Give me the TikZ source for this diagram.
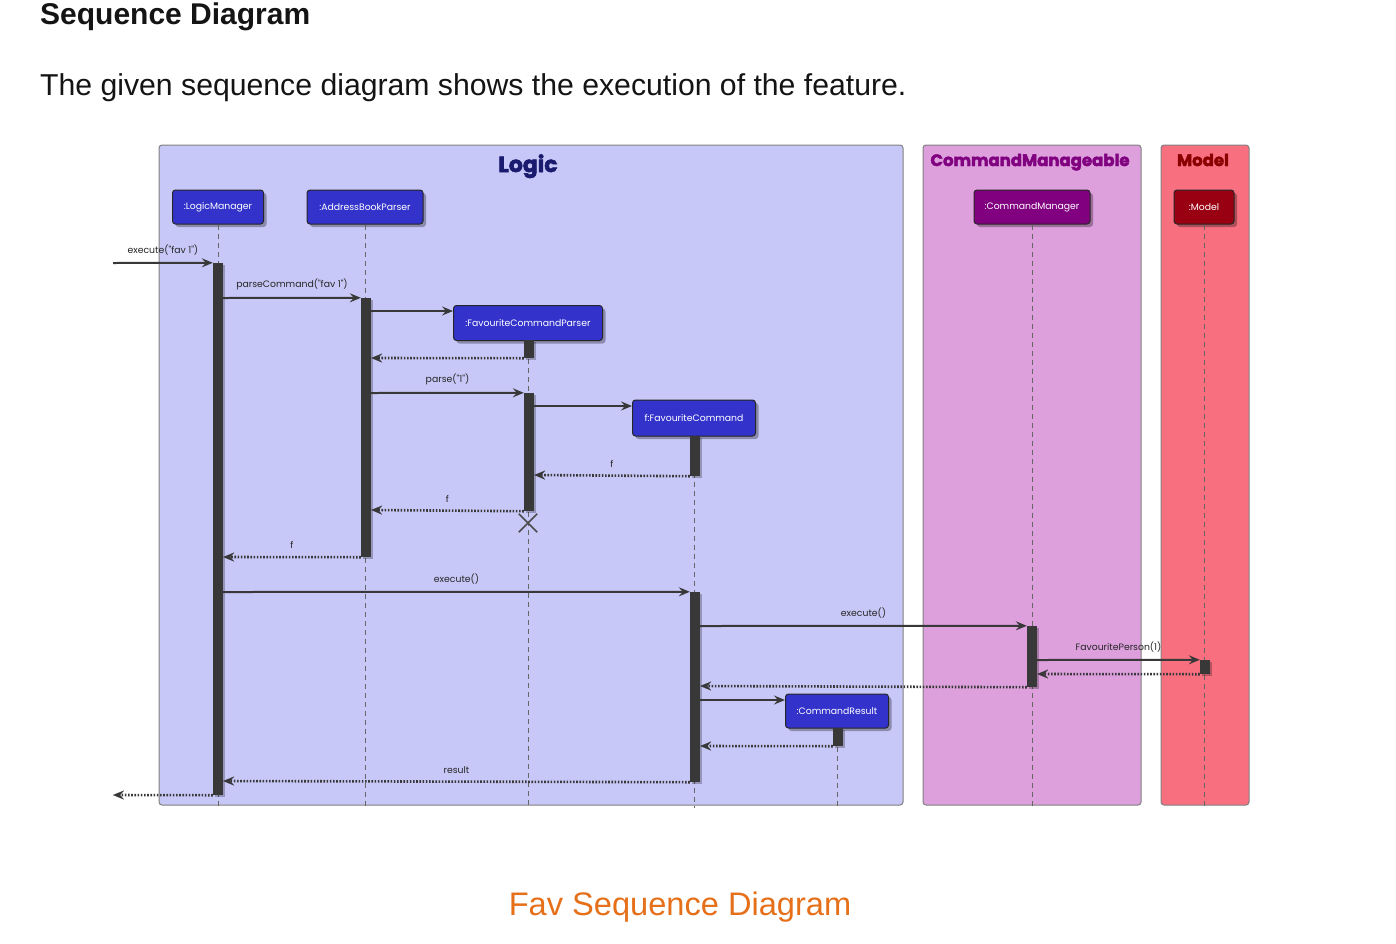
\documentclass[tikz,border=0pt]{standalone}
\usepackage{fontspec}
\setmainfont{Liberation Sans}
\newfontfamily\umlfont{Poppins}
\newfontfamily\titlefont{Poppins}[BoldFeatures={FakeBold=2.5}]
\usetikzlibrary{arrows.meta,shadows}
\definecolor{logicbg}{RGB}{200,200,248}
\definecolor{cmbg}{RGB}{221,160,221}
\definecolor{modelbg}{RGB}{248,112,128}
\definecolor{partblue}{RGB}{51,51,204}
\definecolor{partpurple}{RGB}{128,0,128}
\definecolor{partred}{RGB}{153,0,17}
\definecolor{barcol}{RGB}{56,56,56}
\definecolor{tlogic}{RGB}{26,26,110}
\definecolor{tcm}{RGB}{128,0,128}
\definecolor{tmodel}{RGB}{139,0,0}
\definecolor{capor}{RGB}{230,112,26}
\definecolor{headcol}{RGB}{20,20,20}
\tikzset{
  grp/.style={draw=black!50, line width=1pt, rounded corners=3pt},
  grptitle/.style={font=\titlefont\bfseries\fontsize{22}{26}\selectfont, anchor=base},
  part/.style={draw=black!85, line width=1pt, rounded corners=3pt, text=white,
    font=\umlfont\fontsize{9.3}{11}\selectfont, minimum height=34, inner sep=0pt,
    drop shadow={shadow xshift=3pt, shadow yshift=-3pt, fill=black, opacity=0.3}},
  bar/.style={fill=barcol, draw=none, minimum width=10, inner sep=0pt,
    drop shadow={shadow xshift=2pt, shadow yshift=-2pt, fill=black, opacity=0.25}},
  lifeline/.style={draw=black!60, dash pattern=on 5pt off 4pt, line width=1pt},
  msg/.style={draw=barcol, line width=2pt, -{Stealth[length=11pt,width=9pt,inset=4pt]}},
  ret/.style={draw=barcol, line width=2.6pt, dash pattern=on 1.6pt off 1.6pt,
    -{Stealth[length=11pt,width=9pt,inset=4pt,line width=0.1pt]}},
  mlab/.style={font=\umlfont\fontsize{9.3}{11}\selectfont, anchor=base, inner sep=0pt, text=black!85},
}
\begin{document}
\begin{tikzpicture}[x=1pt,y=-1pt]
\useasboundingbox (0,0) rectangle (1396,943);
\fill[white] (0,0) rectangle (1396,943);

% heading texts
\node[anchor=base west, inner sep=0pt, text=headcol, font=\bfseries\fontsize{30}{34}\selectfont] (head) at (40,24) {Sequence Diagram};
\node[anchor=base west, inner sep=0pt, text=headcol, font=\fontsize{30.2}{34}\selectfont] (intro) at (40,95) {The given sequence diagram shows the execution of the feature.};
\node[anchor=base, inner sep=0pt, text=capor, font=\fontsize{32.6}{36}\selectfont] (cap) at (680,915) {Fav Sequence Diagram};

% groups
\draw[grp, fill=logicbg] (159,145) rectangle (903,805);
\draw[grp, fill=cmbg] (923,145) rectangle (1141,805);
\draw[grp, fill=modelbg] (1161,145) rectangle (1249,805);
\node[grptitle, text=tlogic] (tl) at (528,172) {Logic};
\node[grptitle, text=tcm, font=\titlefont\bfseries\fontsize{16.5}{20}\selectfont] (tc) at (1030,166) {CommandManageable};
\node[grptitle, text=tmodel, font=\titlefont\bfseries\fontsize{16.5}{20}\selectfont] (tm) at (1203,166) {Model};

% lifeline ends
\coordinate (lmend) at (218,808);
\coordinate (abpend) at (365,808);
\coordinate (fcpend) at (528,808);
\coordinate (fcend) at (694,808);
\coordinate (crend) at (837,808);
\coordinate (cmend) at (1032,808);
\coordinate (moend) at (1204,808);

% participants
\node[part, fill=partblue, minimum width=91] (lm) at (218,207) {:LogicManager};
\node[part, fill=partblue, minimum width=116] (abp) at (365,207) {:AddressBookParser};
\node[part, fill=partblue, minimum width=149, minimum height=35] (fcp) at (528,323) {:FavouriteCommandParser};
\node[part, fill=partblue, minimum width=123, minimum height=36] (fc) at (694,418) {f:FavouriteCommand};
\node[part, fill=partblue, minimum width=103] (cr) at (837,711) {:CommandResult};
\node[part, fill=partpurple, minimum width=116] (cm) at (1032,207) {:CommandManager};
\node[part, fill=partred, minimum width=60] (mo) at (1204,207) {:Model};

% lifelines
\draw[lifeline] (lm.south) -- (lmend);
\draw[lifeline] (abp.south) -- (abpend);
\draw[lifeline] (fcp.south) -- (fcpend);
\draw[lifeline] (fc.south) -- (fcend);
\draw[lifeline] (cr.south) -- (crend);
\draw[lifeline] (cm.south) -- (cmend);
\draw[lifeline] (mo.south) -- (moend);

% activation bars
\node[bar, minimum height=532] (lmbar) at (218,529) {};
\node[bar, minimum height=259] (abpbar) at (366,427.5) {};
\node[bar, minimum height=18] (fcpbar1) at (529,349) {};
\node[bar, minimum height=118] (fcpbar2) at (529,452) {};
\node[bar, minimum height=40] (fcbar1) at (695,456) {};
\node[bar, minimum height=190] (fcbar2) at (695,687) {};
\node[bar, minimum height=61] (cmbar) at (1032,656.5) {};
\node[bar, minimum height=14] (mobar) at (1205,667) {};
\node[bar, minimum height=18] (crbar) at (838,737) {};

% free ends
\coordinate (inL) at (113,263);
\coordinate (outL) at (113,795);

% messages
\draw[msg] (inL) -- (lmbar.north west) node[mlab, midway, above=7pt] {execute("fav 1")};
\draw[msg] (lmbar.east |- 0,298) -- (abpbar.north west) node[mlab, midway, above=7pt] {parseCommand("fav 1")};
\draw[msg] (abpbar.east |- 0,311) -- (fcp.west |- 0,311);
\draw[ret] (fcpbar1.south west) -- (abpbar.east |- 0,358);
\draw[msg] (abpbar.east |- 0,393) -- (fcpbar2.north west) node[mlab, midway, above=7pt] {parse("1")};
\draw[msg] (fcpbar2.east |- 0,406) -- (fc.west |- 0,406);
\draw[ret] (fcbar1.south west) -- (fcpbar2.east |- 0,475) node[mlab, midway, above=7pt] {f};
\draw[ret] (fcpbar2.south west) -- (abpbar.east |- 0,510) node[mlab, midway, above=7pt] {f};
\draw[ret] (abpbar.south west) -- (lmbar.east |- 0,557) node[mlab, midway, above=7pt] {f};
\draw[msg] (lmbar.east |- 0,592) -- (fcbar2.north west) node[mlab, midway, above=7pt] {execute()};
\draw[msg] (fcbar2.east |- 0,626) -- (cmbar.north west) node[mlab, midway, above=7pt] {execute()};
\draw[msg] (cmbar.east |- 0,660) -- (mobar.north west) node[mlab, midway, above=7pt] {FavouritePerson(1)};
\draw[ret] (mobar.south west) -- (cmbar.east |- 0,674);
\draw[ret] (cmbar.south west) -- (fcbar2.east |- 0,686);
\draw[msg] (fcbar2.east |- 0,700) -- (cr.west |- 0,700);
\draw[ret] (crbar.south west) -- (fcbar2.east |- 0,746);
\draw[ret] (fcbar2.south west) -- (lmbar.east |- 0,781) node[mlab, midway, above=7pt] {result};
\draw[ret] (lmbar.south west) -- (outL);

% destroy mark
\node[inner sep=0pt, minimum size=18, draw=none] (xd) at (528,523) {};
\draw[black!70, line width=1.6pt] (xd.north west) -- (xd.south east) (xd.north east) -- (xd.south west);
\end{tikzpicture}
\end{document}
